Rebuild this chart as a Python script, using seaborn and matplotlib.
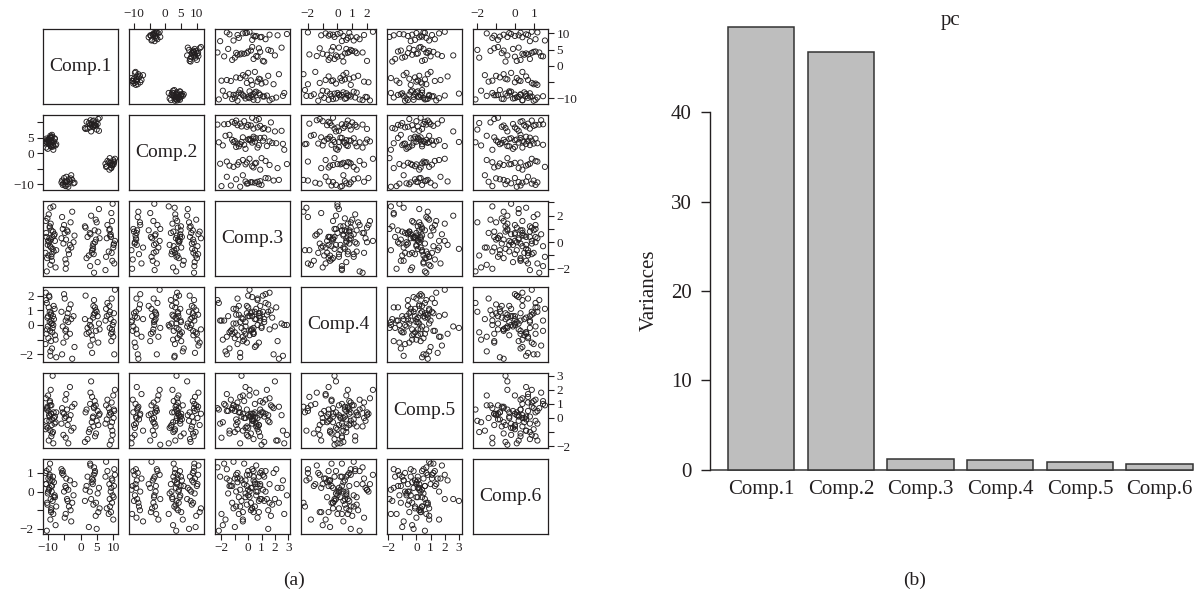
import matplotlib
matplotlib.use("Agg")
import matplotlib.pyplot as plt
import seaborn as sns
import pandas as pd

comp_names = ["Comp.1", "Comp.2", "Comp.3", "Comp.4", "Comp.5", "Comp.6"]
variances = [49.6, 46.8, 1.25, 1.05, 0.90, 0.64]

# PCA scores (four groups in Comp.1 / Comp.2)
comp1 = [-9.6, -10.3, -8.5, -9.1, -10.7, -8.9, -7.9, -9.8, -9.3, -8.2,
         -10.1, -9.5, -7.5, -9.0, -10.4, -8.7, -9.2, -10.8, -9.7, -8.4,
         -9.9, -8.0, -9.4, -10.2, -8.8, -9.1, -10.6, -8.6, -9.5, -7.7,
         -10.0, -9.3, -8.3, -10.5, -9.0,
         -4.2, -5.3, -3.1, -4.7, -5.9, -2.6, -3.8, -4.9, -4.4, -2.2,
         -5.5, -3.6, -1.9, -4.6, -5.1, -3.3, -4.0, -5.7, -2.9, -4.5,
         3.4, 4.6, 2.1, 5.2, 3.0, 3.9, 5.6, 2.5, 4.3, 3.7,
         1.3, 4.1, 5.8, 2.8, 3.5, 4.9, 1.8, 4.4, 3.2, 3.8,
         5.4, 2.9, 1.5, 4.7, 4.0,
         9.0, 9.7, 8.2, 10.1, 9.4, 8.6, 10.5, 9.6, 7.8, 9.2,
         10.0, 8.8, 9.8, 10.3, 8.0, 9.5, 8.9, 10.2, 9.3, 7.6]
comp2 = [3.4, 4.3, 2.6, 5.1, 3.8, 2.0, 4.6, 3.2, 5.6, 3.7,
         1.4, 4.0, 2.9, 4.9, 3.5, 5.3, 2.3, 3.1, 4.4, 1.1,
         3.9, 4.8, 2.7, 3.3, 5.9, 4.1, 1.8, 3.6, 5.0, 2.5,
         4.2, 3.0, 2.2, 4.7, 3.6,
         -9.0, -9.8, -8.1, -10.4, -9.4, -8.6, -10.8, -9.2, -7.6, -9.7,
         -10.2, -8.4, -9.5, -10.6, -8.0, -9.1, -10.0, -8.8, -7.1, -9.3,
         9.0, 9.9, 7.9, 9.4, 10.6, 8.5, 7.2, 9.7, 8.8, 10.3,
         8.1, 9.2, 11.4, 8.3, 9.5, 7.6, 10.1, 9.1, 7.0, 8.6,
         11.0, 9.3, 7.8, 8.9, 10.5,
         -3.3, -4.0, -2.5, -3.6, -4.8, -2.9, -1.8, -3.8, -4.4, -3.1,
         -2.2, -5.3, -3.5, -2.7, -4.2, -3.7, -1.6, -3.0, -4.6, -3.4]
comp3 = [0.3, -1.2, 0.8, -0.4, 1.6, -0.9, 0.1, 2.1, -1.7, 0.5,
         -0.2, 1.1, -0.6, 0.9, -2.2, 0.4, 1.4, -0.8, 0.0, 2.7,
         -1.0, 0.6, -0.3, 1.8, -1.4, 0.2, 0.7, -0.5, 1.2, -1.9,
         0.1, 2.6, -0.7, 0.4, -1.1, 0.9, -0.1, 1.5, -1.3, 0.3,
         2.3, -0.6, 0.7, -1.6, 0.0, 1.0, -0.9, 0.5, -2.0, 1.3,
         -0.2, 0.8, 1.9, -0.4, 0.2, -0.8, 1.7, 0.4, -1.5, 0.6,
         -0.1, 2.5, -1.0, 0.9, -0.3, 1.2, -2.3, 0.3, 0.7, -0.6,
         1.5, -1.2, 0.0, 2.0, -0.5, 0.8, -1.8, 1.1, 0.2, -0.9,
         0.5, -1.4, 1.3, -0.2, 2.2, -0.7, 0.1, 1.6, -1.1, 0.6,
         -0.4, 0.9, 2.9, -1.6, 0.3, -0.8, 1.0, -0.1, 0.4, -2.1]
comp4 = [1.9, -0.3, 0.6, -1.1, 2.2, 0.1, -0.7, 1.2, -1.8, 0.4,
         -0.1, 0.9, -2.2, 0.3, 1.5, -0.5, 0.7, -1.3, 2.0, 0.0,
         -0.9, 1.1, -0.4, 0.5, -1.6, 0.8, 1.7, -0.2, 0.2, -1.0,
         0.6, -2.1, 1.3, -0.6, 0.1, 0.5, -1.2, 1.4, -0.4, 0.9,
         -2.3, 0.2, 1.8, -0.8, 0.6, -0.1, 1.1, -1.5, 0.3, 2.1,
         -0.6, 0.8, -2.0, 0.4, -0.3, -0.7, 1.0, -0.2, 0.6, -1.4,
         1.3, 0.1, -0.5, 0.8, -1.0, 0.4, 1.7, -0.3, 0.0, -1.9,
         0.9, -0.6, 1.2, -0.1, 0.5, -1.2, 0.3, 2.0, -0.4, 0.7,
         0.9, -0.5, 1.5, 0.2, -1.1, 0.7, 2.4, -0.3, 1.1, 0.4,
         -0.8, 1.3, 0.0, -2.0, 0.6, 1.8, -0.2, 0.8, -0.6, 0.3]
comp5 = [-0.2, 0.7, -1.0, 0.3, 1.4, -0.5, 0.1, -1.6, 0.9, 0.0,
         -0.7, 1.1, 0.4, -1.3, 0.6, -0.1, 2.0, -0.8, 0.2, -1.8,
         0.5, -0.4, 1.2, 0.8, -1.1, 0.3, -0.6, 3.0, 0.1, -0.3,
         1.6, -0.9, 0.4, -0.2, 0.9, 0.6, -1.2, 0.2, 1.3, -0.4,
         0.8, -1.8, 0.0, 1.7, -0.7, 0.4, -0.1, 1.0, -1.4, 0.3,
         2.2, -0.5, 0.7, -0.9, 0.1, -0.3, 0.9, -1.5, 0.5, 1.8,
         -0.6, 0.2, -1.0, 1.2, 0.0, -1.7, 0.7, 0.3, -0.8, 1.5,
         -0.2, 0.6, -1.3, 2.6, 0.1, -0.5, 1.0, 0.4, -1.1, 0.8,
         0.4, -0.9, 1.3, 0.0, -1.6, 0.7, 2.0, -0.3, 0.9, -0.6,
         1.6, 0.2, -1.2, 0.5, -0.1, 1.1, -1.9, 0.6, 0.3, -0.4]
comp6 = [0.2, -0.6, 0.8, -1.1, 0.4, 0.0, -0.3, 1.2, -1.5, 0.5,
         -0.1, 0.9, -0.8, 0.3, -2.1, 0.6, -0.4, 1.0, 0.1, -1.2,
         0.7, -0.2, 1.5, -0.7, 0.3, -1.0, 0.4, -0.5, 0.8, -1.8,
         0.0, 0.6, -0.3, 1.1, -0.9, -0.4, 0.9, -1.0, 0.3, 1.2,
         -0.6, 0.1, -1.4, 0.7, -0.2, 1.1, -0.8, 0.4, -1.2, 0.0,
         0.6, -0.5, 1.0, -1.6, 0.2, 0.5, -1.3, 0.8, -0.1, 1.4,
         -0.7, 0.2, -1.9, 1.0, 0.4, -0.5, 1.3, -0.9, 0.0, 0.7,
         -2.0, 0.3, 1.1, -0.4, 0.6, -1.1, 1.5, 0.1, -0.6, 0.9,
         -0.8, 0.6, 1.1, -0.3, 0.2, -1.2, 0.9, -0.6, 1.6, 0.0,
         -1.5, 0.4, -0.2, 1.2, -0.9, 0.7, -0.4, 0.3, -1.1, 0.8]

# tick marks and the labels R printed on each side of the scatter matrix
tick_pos = {"Comp.1": [-10, -5, 0, 5, 10], "Comp.2": [-10, -5, 0, 5, 10],
            "Comp.3": [-2, -1, 0, 1, 2, 3], "Comp.4": [-2, -1, 0, 1, 2],
            "Comp.5": [-2, -1, 0, 1, 2, 3], "Comp.6": [-2, -1, 0, 1]}
top_labels = {"Comp.2": [-10, 0, 5, 10], "Comp.4": [-2, 0, 1, 2], "Comp.6": [-2, 0, 1]}
bottom_labels = {"Comp.1": [-10, 0, 5, 10], "Comp.3": [-2, 0, 1, 2, 3], "Comp.5": [-2, 0, 1, 2, 3]}
left_labels = {"Comp.2": [-10, 0, 5], "Comp.4": [-2, 0, 1, 2], "Comp.6": [-2, 0, 1]}
right_labels = {"Comp.1": [-10, 0, 5, 10], "Comp.3": [-2, 0, 2], "Comp.5": [-2, 0, 1, 2, 3]}

scores = pd.DataFrame({"Comp.1": comp1, "Comp.2": comp2, "Comp.3": comp3,
                       "Comp.4": comp4, "Comp.5": comp5, "Comp.6": comp6})
pc = pd.DataFrame({"comp": comp_names, "var": variances})

sns.set_style("white")
plt.rcParams["font.family"] = ["Liberation Serif", "DejaVu Serif"]
ink = "#231f20"

W, H = 1202, 594
fig = plt.figure(figsize=(W / 100, H / 100), dpi=100)


def px_axes(left, top, width, height):
    return fig.add_axes([left / W, 1 - (top + height) / H, width / W, height / H])


def fmt(v):
    return str(v).replace("-", "\u2212")


def tick_labels(name, shown):
    return [fmt(t) if t in shown else "" for t in tick_pos[name]]


limits = {}
for c in comp_names:
    lo, hi = scores[c].min(), scores[c].max()
    limits[c] = (lo - 0.04 * (hi - lo), hi + 0.04 * (hi - lo))

# (a) scatter matrix
n = len(comp_names)
for i, cy in enumerate(comp_names):
    for j, cx in enumerate(comp_names):
        ax = px_axes(42.7 + 86 * j, 29 + 86 * i, 75, 74.5)
        if i == j:
            ax.text(0.5, 0.5, cx, transform=ax.transAxes, ha="center",
                    va="center", fontsize=14, color=ink)
        else:
            sns.scatterplot(data=scores, x=cx, y=cy, ax=ax, color=ink,
                            facecolor="none", edgecolor=ink, s=14,
                            linewidth=0.65, legend=False)
        ax.set_xlim(limits[cx])
        ax.set_ylim(limits[cy])
        ax.set_xlabel("")
        ax.set_ylabel("")
        ax.set_xticks([])
        ax.set_yticks([])
        for sp in ax.spines.values():
            sp.set_linewidth(0.9)
            sp.set_color(ink)
        ax.tick_params(length=4.2, width=0.8, pad=2.2, labelsize=9.5,
                       colors=ink, direction="out")
        if i == 0 and j % 2 == 1:
            ax.set_xticks(tick_pos[cx], tick_labels(cx, top_labels[cx]))
            ax.tick_params(axis="x", top=True, labeltop=True,
                           bottom=False, labelbottom=False)
        if i == n - 1 and j % 2 == 0:
            ax.set_xticks(tick_pos[cx], tick_labels(cx, bottom_labels[cx]))
            ax.tick_params(axis="x", bottom=True, labelbottom=True)
        if j == 0 and i % 2 == 1:
            ax.set_yticks(tick_pos[cy], tick_labels(cy, left_labels[cy]))
            ax.tick_params(axis="y", left=True, labelleft=True)
        if j == n - 1 and i % 2 == 0:
            ax.set_yticks(tick_pos[cy], tick_labels(cy, right_labels[cy]))
            ax.tick_params(axis="y", right=True, labelright=True,
                           left=False, labelleft=False)

# (b) variances of the components
axb = px_axes(709.7, 18.7, 485.8, 453.7)
sns.barplot(data=pc, x="comp", y="var", ax=axb, color="#bebebe",
            saturation=1, edgecolor="#333333", linewidth=1.1, width=0.833)
axb.set_xlim(-0.646, 5.45)
axb.set_ylim(-0.3, 50.5)
axb.hlines(0, -0.646, len(comp_names) - 1 + 0.4165, color="#555555",
           linewidth=1.3, zorder=0.5)
for side in ["top", "right", "bottom"]:
    axb.spines[side].set_visible(False)
axb.spines["left"].set_bounds(0, 40)
axb.spines["left"].set_color(ink)
axb.spines["left"].set_linewidth(1.0)
axb.set_yticks([0, 10, 20, 30, 40])
axb.tick_params(axis="y", left=True, length=6.3, width=1.0, pad=6.7,
                labelsize=15, colors=ink)
axb.tick_params(axis="x", length=0, pad=5.5, labelsize=15, colors=ink)
axb.set_xlabel("")
axb.set_ylabel("")

fig.text(951 / W, 1 - 20 / H, "pc", ha="center", va="center", fontsize=15, color=ink)
fig.text(649.5 / W, 1 - 290 / H, "Variances", ha="center", va="center",
         rotation=90, fontsize=15, color=ink)
fig.text(294 / W, 1 - 580 / H, "(a)", ha="center", va="center", fontsize=14, color=ink)
fig.text(915 / W, 1 - 580 / H, "(b)", ha="center", va="center", fontsize=14, color=ink)

fig.savefig("out.png", dpi=100, facecolor="white")
